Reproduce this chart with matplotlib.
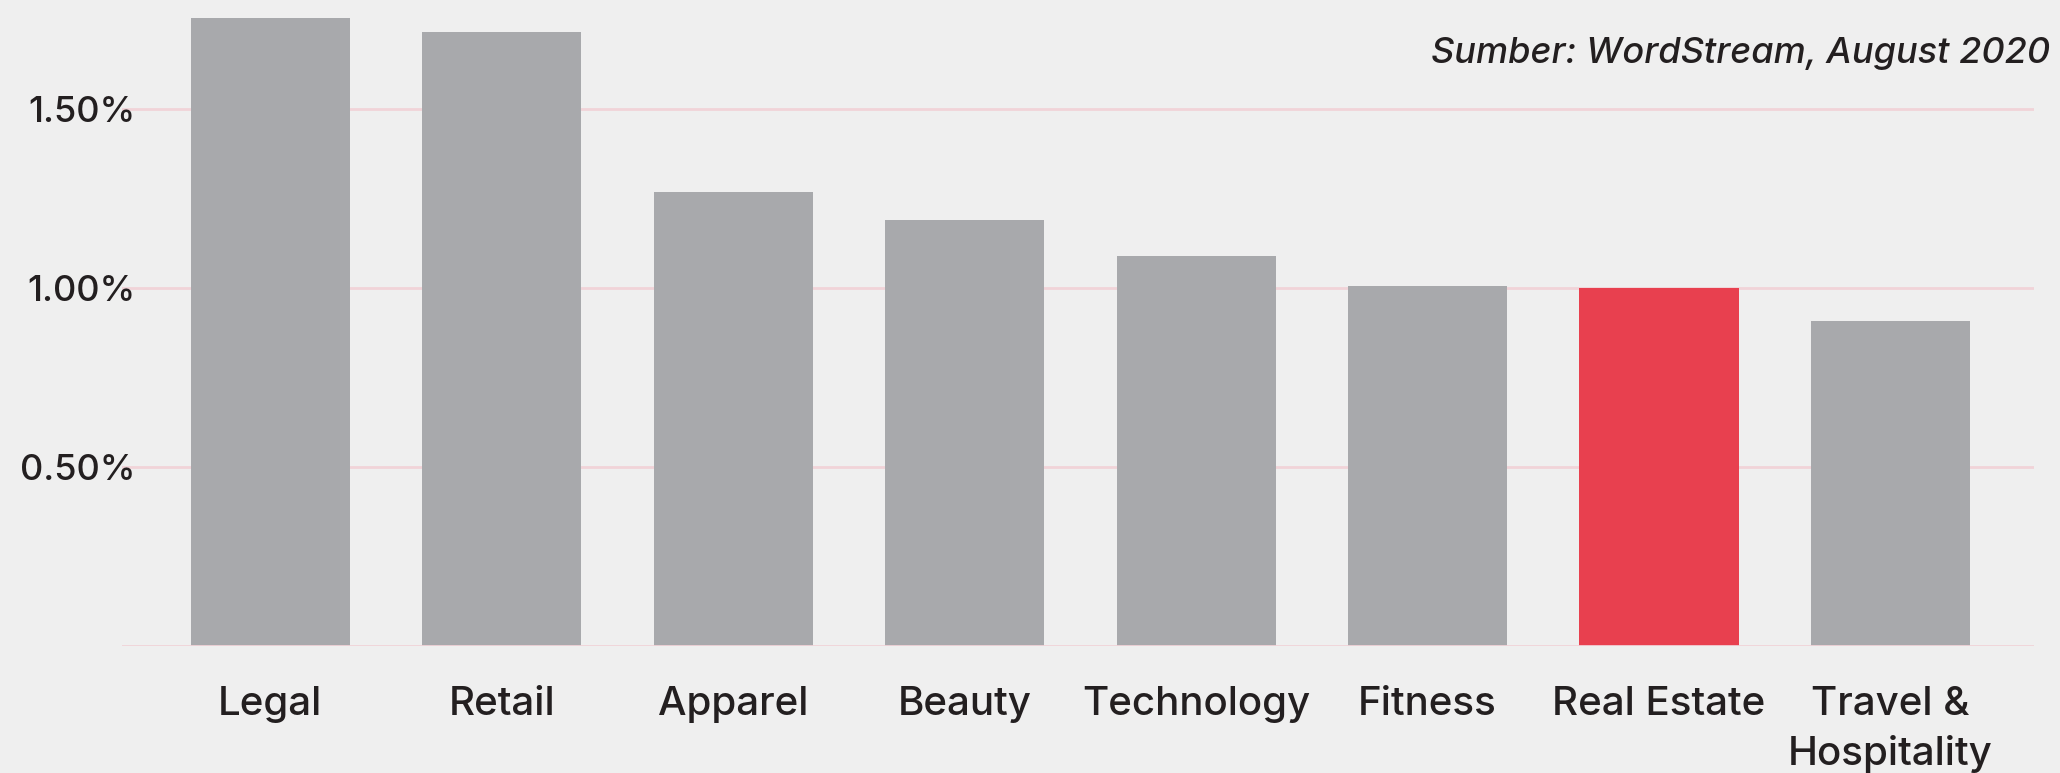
from matplotlib import pyplot as plt
import numpy as np

# data
industries = ['Legal', 'Retail', 'Apparel', 'Beauty', 'Technology',
              'Fitness', 'Real Estate', 'Travel &\nHospitality']
rates = [1.755, 1.715, 1.268, 1.19, 1.088, 1.004, 1.0, 0.908]
highlight = 'Real Estate'
y_ticks = [0.5, 1.0, 1.5]
y_tick_labels = ['0.50%', '1.00%', '1.50%']
source = 'Sumber: WordStream, August 2020'

bg = '#efefef'
grey = '#a8a9ac'
red = '#e8404f'
grid_col = '#f1d3d8'
txt = '#231f20'

plt.rcParams['font.family'] = ['Inter', 'DejaVu Sans']

fig = plt.figure(figsize=(20.6, 7.73), dpi=100, facecolor=bg)
ax = fig.add_axes([122 / 2060, (773 - 646) / 773, (2034 - 122) / 2060, 646 / 773])
ax.set_facecolor(bg)

x = np.arange(len(industries))
colors = [red if c == highlight else grey for c in industries]
ax.bar(x, rates, width=0.687, color=colors, zorder=3)

ax.set_xlim(-0.64, len(industries) - 1 + 0.62)
ax.set_ylim(0, 1.804)

for y in y_ticks:
    ax.axhline(y, color=grid_col, lw=2, zorder=1)
ax.axhline(0, color=grid_col, lw=2, zorder=4)

ax.set_yticks(y_ticks)
ax.set_yticklabels(y_tick_labels, fontsize=26, color=txt, fontweight='medium')
ax.set_xticks(x)
ax.set_xticklabels(industries, fontsize=29, color=txt, linespacing=1.40,
                   va='top', fontweight='medium')
ax.tick_params(axis='y', length=0, pad=-10)
ax.tick_params(axis='x', length=0, pad=29)
for lab in ax.get_yticklabels():
    lab.set_ha('right')

for s in ax.spines.values():
    s.set_visible(False)

fig.text(2050 / 2060, 1 - 53 / 773, source, ha='right', va='center',
         fontsize=26, style='italic', color=txt, fontweight='medium')

fig.savefig('out.png', dpi=100, facecolor=bg)
